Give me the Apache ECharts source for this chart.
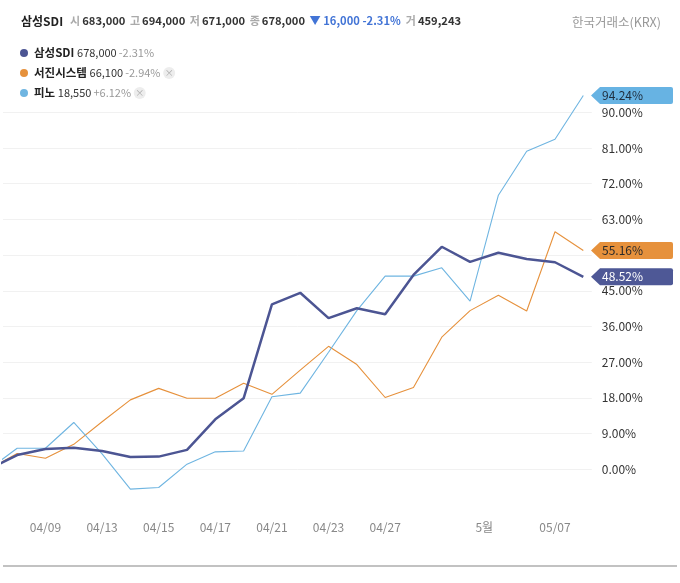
<!DOCTYPE html>
<html><head><meta charset="utf-8">
<script src="https://cdn.jsdelivr.net/npm/echarts@6/dist/echarts.min.js"></script>
<style>html,body{margin:0;padding:0;background:#fff}#c{width:680px;height:583px}</style>
</head><body><div id="c"></div>
<script>
// ---- data ----
const dates = ['04/07','04/08','04/09','04/10','04/13','04/14','04/15','04/16','04/17','04/20','04/21','04/22','04/23','04/24','04/27','04/28','04/29','04/30','05/04','05/06','05/07','05/08'];
const xTickPositions = [2,4,6,8,10,12,14,17.5,20];
const xTickLabels = ['04/09','04/13','04/15','04/17','04/21','04/23','04/27','5월','05/07'];
const yTicks = [0,9,18,27,36,45,63,72,81,90];
const seriesNames = ['삼성SDI','서진시스템','피노'];
const seriesPrices = ['678,000','66,100','18,550'];
const seriesChanges = ['-2.31%','-2.94%','+6.12%'];
const sdi    = [0,3.6,5.1,5.45,4.6,3.1,3.2,4.9,12.6,17.9,41.6,44.5,38.1,40.6,39.1,49.0,56.1,52.3,54.6,53.0,52.2,48.52];
const seojin = [0,4.0,2.8,6.3,12.0,17.5,20.4,17.9,17.9,21.7,18.9,25.0,31.0,26.4,18.1,20.6,33.3,40.0,43.9,39.9,59.9,55.16];
const pino   = [0,5.3,5.3,11.8,3.9,-5.0,-4.6,1.3,4.4,4.6,18.3,19.2,29.5,40.0,48.7,48.7,50.8,42.4,69.1,80.2,83.2,94.24];
const headerName = '삼성SDI';
const ohlcKeys = ['시','고','저','종'];
const ohlcValues = ['683,000','694,000','671,000','678,000'];
const dayChange = '▼ 16,000 -2.31%';
const volumeKey = '거';
const volumeValue = '459,243';
const exchange = '한국거래소(KRX)';

// ---- styles ----
const colors = ['#4c5593','#e6913c','#6fb5e1'];
const tagColors = ['#4e5896','#e6913c','#67b3e3'];
const tagText = ['#ffffff','#2a2a2a','#1f2d3d'];
const widths = [2.5,1.1,1.1];
const FONT = '"Noto Sans CJK KR","Noto Sans",sans-serif';

let head = `{name|${headerName}}`;
ohlcKeys.forEach((k,i)=>{ head += `{k|${k}}{v|${ohlcValues[i]}}`; });
head += `{chg|${dayChange}}{k|${volumeKey}}{v|${volumeValue}}`;

const allData = [sdi, seojin, pino];
const series = allData.map((arr, si) => ({
  name: seriesNames[si],
  type: 'line',
  data: arr.map((v, i) => [i, v]),
  showSymbol: false,
  clip: true,
  z: si === 0 ? 5 : 3,
  lineStyle: { color: colors[si], width: widths[si] },
  itemStyle: { color: colors[si] },
  emphasis: { disabled: true },
  markPoint: {
    silent: true,
    symbol: 'path://M0,8.5L9,0H80Q82,0 82,2V15Q82,17 80,17H9Z',
    symbolSize: [82, 17],
    symbolOffset: [48.7, 0],
    itemStyle: { color: tagColors[si] },
    label: {
      show: true, position: 'insideLeft', distance: 11,
      color: tagText[si], fontSize: 12, fontFamily: FONT,
      formatter: () => arr[arr.length-1].toFixed(2) + '%'
    },
    data: [{ coord: [arr.length-1, arr[arr.length-1]] }]
  }
}));

const splitColors = ['rgba(0,0,0,0)'];
for (let i=0;i<11;i++) splitColors.push('#f1f1f1');
splitColors.push('rgba(0,0,0,0)');

const chart = echarts.init(document.getElementById('c'));
chart.setOption({
  animation: false,
  textStyle: { fontFamily: FONT },
  title: [
    { left: 16, top: 10, text: head, textStyle: { rich: {
        name: { fontSize: 12, fontWeight: 'bold', color: '#222', fontFamily: FONT, padding: [0,7,0,0] },
        k: { fontSize: 11, color: '#aaa', fontFamily: FONT, padding: [0,2,0,0] },
        v: { fontSize: 11.2, fontWeight: 'bold', color: '#333', fontFamily: FONT, padding: [0,4.5,0,0] },
        chg: { fontSize: 11.2, color: '#4274d6', fontFamily: FONT, padding: [0,5,0,0] }
    } } },
    { right: 14, top: 11, text: exchange, textStyle: { fontSize: 12.5, fontWeight: 'normal', color: '#999', fontFamily: FONT } }
  ],
  legend: {
    orient: 'vertical', left: 15, top: 42, itemGap: 8,
    icon: 'circle', itemWidth: 10, itemHeight: 8,
    selectedMode: false,
    data: seriesNames,
    formatter: (name) => {
      const i = seriesNames.indexOf(name);
      let s = `{n|${name}} {p|${seriesPrices[i]}}{c|${seriesChanges[i]}}`;
      if (i > 0) s += ` {x|×}`;
      return s;
    },
    textStyle: { rich: {
      n: { fontSize: 11.5, fontWeight: 'bold', color: '#222', fontFamily: FONT, lineHeight: 14 },
      p: { fontSize: 11, color: '#333', fontFamily: FONT, padding: [0,2,0,0] },
      c: { fontSize: 11, color: '#999', fontFamily: FONT },
      x: { fontSize: 9, color: '#aaa', backgroundColor: '#ededed', borderRadius: 6, width: 12, height: 12, align: 'center', lineHeight: 12 }
    } }
  },
  grid: { left: 2.5, right: 88.2, top: 76.6, bottom: 78, containLabel: false },
  xAxis: {
    type: 'value', min: 0.5, max: 21.3, interval: 0.5,
    axisLine: { show: false }, axisTick: { show: false }, splitLine: { show: false },
    axisLabel: {
      margin: 16, color: '#888', fontSize: 12, fontFamily: FONT,
      showMinLabel: true, showMaxLabel: true,
      formatter: (v) => { const k = xTickPositions.indexOf(v); return k >= 0 ? xTickLabels[k] : ''; }
    }
  },
  yAxis: {
    type: 'value', position: 'right', min: -9, max: 99, interval: 9,
    axisLine: { show: false }, axisTick: { show: false },
    splitLine: { show: true, lineStyle: { color: splitColors, width: 1 } },
    axisLabel: {
      margin: 10, color: '#333', fontSize: 12, fontFamily: FONT,
      formatter: (v) => yTicks.indexOf(v) >= 0 ? v.toFixed(2) + '%' : ''
    }
  },
  series: series,
  graphic: [
    { type: 'line', silent: true, shape: { x1: 3, y1: 566, x2: 677, y2: 566 }, style: { stroke: '#c2c2c2', lineWidth: 2 } }
  ]
});
</script></body></html>
